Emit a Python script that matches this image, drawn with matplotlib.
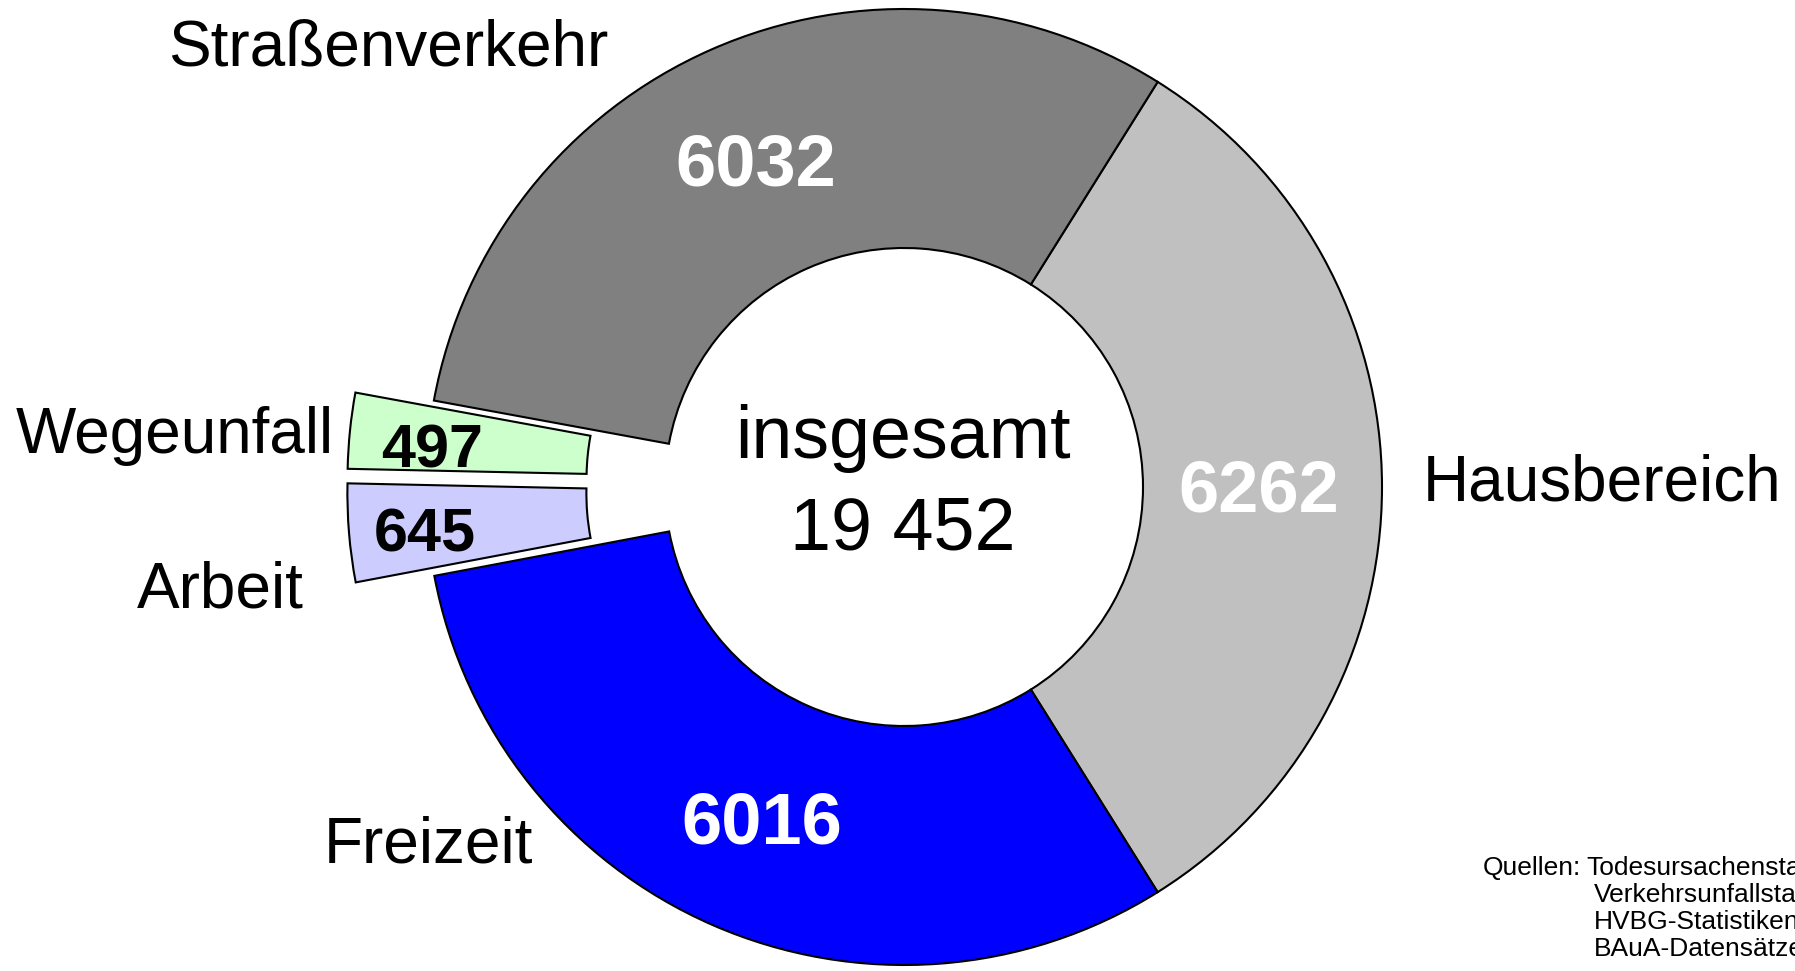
import matplotlib
matplotlib.use("Agg")
import matplotlib.pyplot as plt

plt.rcParams['font.family'] = ['Liberation Sans', 'DejaVu Sans']

# Daten
kategorien = ["Hausbereich", "Straßenverkehr", "Wegeunfall", "Arbeit", "Freizeit"]
werte = [6262, 6032, 497, 645, 6016]
farben = ["#C0C0C0", "#808080", "#CCFFCC", "#CCCCFF", "#0000FF"]
explode = [0, 0, 0.165, 0.165, 0]
gesamt_text = ["insgesamt", "19 452"]
quellen = ["Todesursachenstatistik", "Verkehrsunfallstatistik",
           "HVBG-Statistiken", "BAuA-Datensätze"]

W, H = 1795, 971
fig = plt.figure(figsize=(W / 100, H / 100), dpi=100)
ax = fig.add_axes([0, 0, 1, 1])

summe = sum(werte)
start = -werte[0] / summe * 360 / 2  # Hausbereich symmetrisch um 0 Grad

ax.pie(werte, colors=farben, explode=explode, startangle=start, radius=1,
       counterclock=True,
       wedgeprops=dict(width=0.5, edgecolor="black", linewidth=1.5))

# Mittelpunkt bei Pixel (904, 487), Radius 478 px
R = 478.0
cx, cy = 904, 487
ax.set_xlim(-cx / R, (W - cx) / R)
ax.set_ylim(-(H - cy) / R, cy / R)
ax.set_aspect('auto')
ax.axis('off')


def px(x, y):
    return x / W, 1 - y / H


# Kategorienamen
fig.text(*px(168, 65), "Straßenverkehr", fontsize=46, ha='left', va='baseline')
fig.text(*px(1423, 500), "Hausbereich", fontsize=46, ha='left', va='baseline')
fig.text(*px(16, 453), "Wegeunfall", fontsize=46, ha='left', va='baseline')
fig.text(*px(137, 607), "Arbeit", fontsize=46, ha='left', va='baseline')
fig.text(*px(324, 862), "Freizeit", fontsize=46, ha='left', va='baseline')

# Werte
fig.text(*px(756, 185), str(werte[1]), fontsize=52, fontweight='bold',
         color='white', ha='center', va='baseline')
fig.text(*px(1259, 511), str(werte[0]), fontsize=52, fontweight='bold',
         color='white', ha='center', va='baseline')
fig.text(*px(762, 843), str(werte[4]), fontsize=52, fontweight='bold',
         color='white', ha='center', va='baseline')
fig.text(*px(381, 467), str(werte[2]), fontsize=44, fontweight='bold',
         color='black', ha='left', va='baseline')
fig.text(*px(374, 551), str(werte[3]), fontsize=44, fontweight='bold',
         color='black', ha='left', va='baseline')

# Summe in der Mitte
fig.text(*px(903, 458), gesamt_text[0], fontsize=53, ha='center', va='baseline')
fig.text(*px(903, 550), gesamt_text[1], fontsize=53, ha='center', va='baseline')

# Quellen (rechts vom Bildrand abgeschnitten wie im Original)
fig.text(*px(1483, 875), "Quellen:", fontsize=19, ha='left', va='baseline')
basis = [875, 902, 929, 956]
for i, q in enumerate(quellen):
    x0 = 1586 if i == 0 else 1594
    fig.text(*px(x0, basis[i]), q, fontsize=19, ha='left', va='baseline')

fig.savefig("out.png", dpi=100)
